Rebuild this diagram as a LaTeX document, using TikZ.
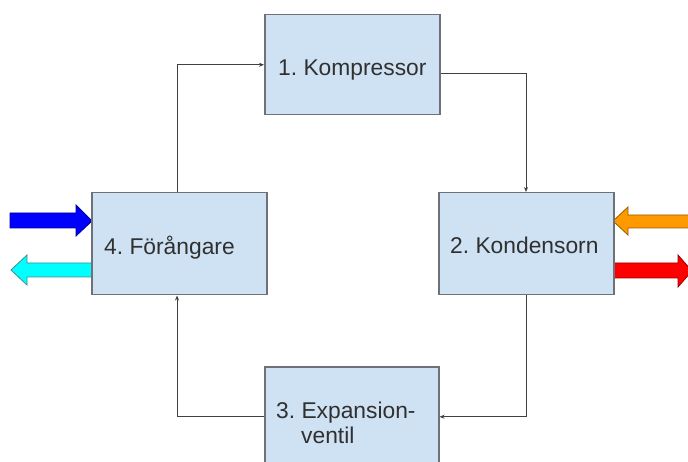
\documentclass[tikz,border=0pt]{standalone}
\usepackage{fontspec}
\setmainfont{Liberation Sans}
\usetikzlibrary{arrows.meta}
\definecolor{boxfill}{HTML}{CFE2F3}
\definecolor{boxline}{HTML}{6E7278}
\definecolor{txt}{HTML}{303030}
\definecolor{orng}{HTML}{FF9900}
\definecolor{aqua}{HTML}{00FFFF}
\definecolor{aqualine}{HTML}{3F8F8F}
\definecolor{bluefill}{HTML}{0000FF}
\definecolor{redfill}{HTML}{FF0000}
\frenchspacing
\begin{document}
\begin{tikzpicture}[x=1pt,y=-1pt,
  box/.style={draw=boxline, line width=1.5pt, fill=boxfill, inner sep=0pt, anchor=north west},
  lbl/.style={anchor=base west, inner sep=0pt, text=txt, font=\fontsize{22.8}{25}\selectfont},
  conn/.style={draw=black!75, line width=0.8pt, -{Stealth[length=5pt,width=4pt]}},
  fat/.style={line width=0.8pt, line join=miter}]
\useasboundingbox (0,0) rectangle (688,462);
\clip (0,0) rectangle (688,462);
% fat flow arrows
\filldraw[fill=bluefill, draw=bluefill!60!black, fat] (10,213) -- (76,213) -- (76,205) -- (92,221) -- (76,236) -- (76,228) -- (10,228) -- cycle;
\filldraw[fill=aqua, draw=aqualine, fat] (92,263) -- (27,263) -- (27,255) -- (11,270) -- (27,285) -- (27,277) -- (92,277) -- cycle;
\filldraw[fill=orng, draw=orng!60!black, fat] (692,215) -- (628,215) -- (628,207) -- (613,221) -- (628,235) -- (628,228) -- (692,228) -- cycle;
\filldraw[fill=redfill, draw=redfill!60!black, fat] (613,263) -- (678,263) -- (678,255) -- (692,271) -- (678,287) -- (678,278) -- (613,278) -- cycle;
% boxes
\node[box, minimum width=175pt, minimum height=100pt] (b1) at (264,14) {};
\node[box, minimum width=175pt, minimum height=102pt] (b4) at (91,192) {};
\node[box, minimum width=175pt, minimum height=102pt] (b2) at (438,192) {};
\node[box, minimum width=174pt, minimum height=100pt] (b3) at (264,366) {};
% labels
\node[lbl] (t1) at (278,76) {1. Kompressor};
\node[lbl] (t4) at (104,255) {4. Förångare};
\node[lbl] (t2) at (450,254) {2. Kondensorn};
\node[lbl] (t3) at (276,418) {3. Expansion-};
\node[lbl] (t3b) at (301,443) {ventil};
% connectors
\coordinate (cl) at (177,0);
\coordinate (cr) at (526,0);
\draw[conn] (b4.north -| cl) |- (b1.west);
\draw[conn] ([yshift=-9pt]b1.east) -| (b2.north -| cr);
\draw[conn] (b2.south -| cr) |- (b3.east);
\draw[conn] (b3.west) -| (b4.south -| cl);
\end{tikzpicture}
\end{document}
